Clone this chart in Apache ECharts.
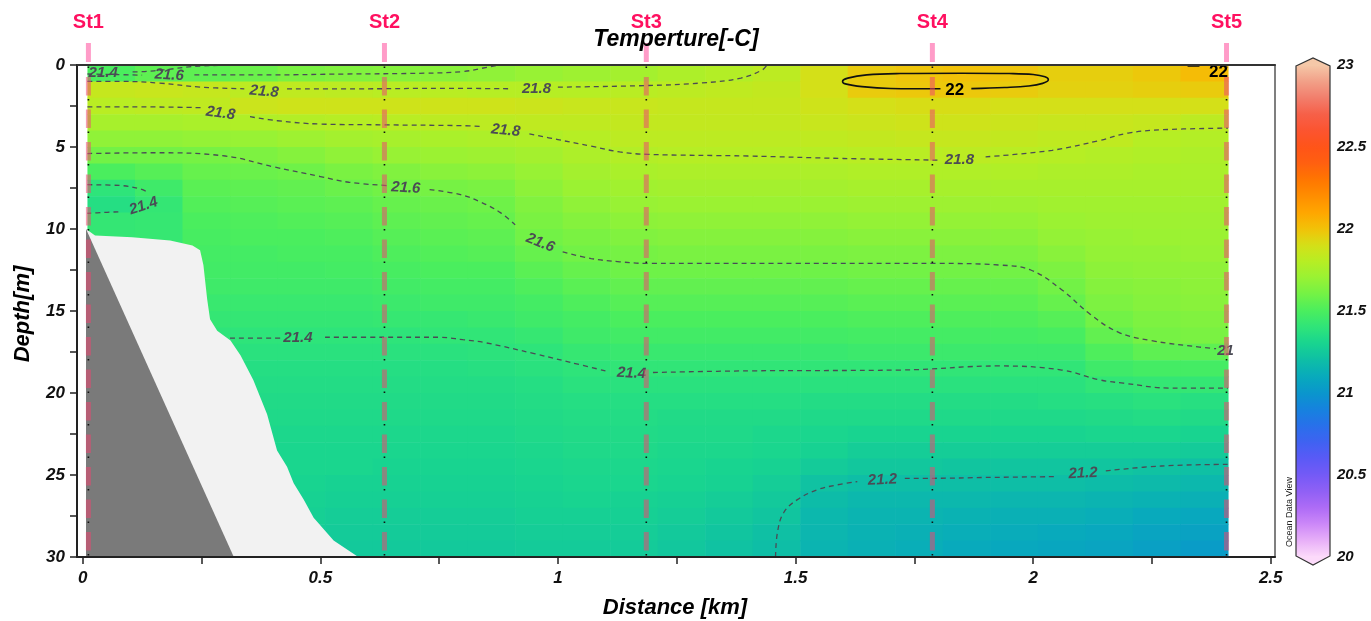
<!DOCTYPE html>
<html>
<head>
<meta charset="utf-8">
<title>Temperture section</title>
<script src="https://cdn.jsdelivr.net/npm/echarts@6.0.0/dist/echarts.min.js"></script>
<style>
  html, body { margin: 0; padding: 0; background: #fff; }
  #chart { width: 1371px; height: 621px; }
</style>
</head>
<body>
<div id="chart"></div>
<script>
// grid cell centres (km along section, m depth)
const distances = [0.06, 0.16, 0.26, 0.36, 0.46, 0.56, 0.66, 0.76, 0.86, 0.96, 1.06, 1.16,
  1.26, 1.36, 1.46, 1.56, 1.66, 1.76, 1.86, 1.96, 2.06, 2.16, 2.26, 2.36]
const depths = [0.5, 1.5, 2.5, 3.5, 4.5, 5.5, 6.5, 7.5, 8.5, 9.5, 10.5, 11.5, 12.5, 13.5, 14.5,
  15.5, 16.5, 17.5, 18.5, 19.5, 20.5, 21.5, 22.5, 23.5, 24.5, 25.5, 26.5, 27.5, 28.5, 29.5]

// temperature profiles, one per distance, top to bottom
const temps = [
  [21.5, 21.85, 21.81, 21.75, 21.68, 21.6, 21.5, 21.4, 21.36, 21.42, 21.42, 21.42, 21.42, 21.42, 21.42, 21.42, 21.42, 21.42, 21.42, 21.42, 21.42, 21.42, 21.42, 21.42, 21.42, 21.42, 21.42, 21.42, 21.42, 21.42],
  [21.55, 21.86, 21.82, 21.75, 21.68, 21.6, 21.53, 21.46, 21.42, 21.43, 21.43, 21.43, 21.43, 21.43, 21.43, 21.43, 21.43, 21.43, 21.43, 21.43, 21.43, 21.43, 21.43, 21.43, 21.43, 21.43, 21.43, 21.43, 21.43, 21.43],
  [21.55, 21.85, 21.83, 21.76, 21.69, 21.61, 21.57, 21.54, 21.52, 21.5, 21.49, 21.48, 21.47, 21.46, 21.44, 21.42, 21.4, 21.38, 21.36, 21.34, 21.32, 21.3, 21.3, 21.3, 21.3, 21.3, 21.3, 21.3, 21.3, 21.3],
  [21.58, 21.82, 21.87, 21.78, 21.7, 21.63, 21.58, 21.55, 21.53, 21.51, 21.5, 21.48, 21.47, 21.46, 21.44, 21.42, 21.4, 21.38, 21.36, 21.35, 21.34, 21.33, 21.32, 21.31, 21.3, 21.3, 21.3, 21.3, 21.3, 21.3],
  [21.62, 21.83, 21.88, 21.79, 21.72, 21.65, 21.59, 21.56, 21.54, 21.52, 21.5, 21.49, 21.47, 21.46, 21.44, 21.42, 21.4, 21.38, 21.36, 21.35, 21.34, 21.33, 21.32, 21.31, 21.31, 21.3, 21.29, 21.28, 21.27, 21.26],
  [21.64, 21.82, 21.88, 21.8, 21.74, 21.68, 21.62, 21.58, 21.55, 21.53, 21.51, 21.49, 21.48, 21.46, 21.44, 21.42, 21.4, 21.38, 21.36, 21.35, 21.34, 21.33, 21.32, 21.31, 21.31, 21.29, 21.28, 21.27, 21.26, 21.25],
  [21.65, 21.81, 21.88, 21.81, 21.75, 21.7, 21.64, 21.6, 21.57, 21.55, 21.53, 21.51, 21.49, 21.47, 21.45, 21.43, 21.4, 21.38, 21.36, 21.35, 21.34, 21.33, 21.32, 21.31, 21.3, 21.29, 21.28, 21.27, 21.26, 21.25],
  [21.66, 21.81, 21.88, 21.82, 21.76, 21.71, 21.66, 21.61, 21.58, 21.56, 21.54, 21.52, 21.5, 21.48, 21.46, 21.43, 21.41, 21.38, 21.36, 21.35, 21.34, 21.33, 21.32, 21.31, 21.3, 21.29, 21.28, 21.27, 21.26, 21.25],
  [21.68, 21.8, 21.88, 21.82, 21.77, 21.72, 21.67, 21.62, 21.59, 21.57, 21.55, 21.53, 21.5, 21.48, 21.46, 21.44, 21.41, 21.39, 21.37, 21.35, 21.34, 21.33, 21.32, 21.31, 21.3, 21.29, 21.28, 21.27, 21.26, 21.25],
  [21.7, 21.8, 21.87, 21.83, 21.78, 21.74, 21.7, 21.67, 21.64, 21.62, 21.6, 21.57, 21.54, 21.51, 21.48, 21.46, 21.43, 21.4, 21.38, 21.36, 21.35, 21.34, 21.33, 21.32, 21.31, 21.3, 21.29, 21.28, 21.27, 21.26],
  [21.72, 21.8, 21.86, 21.83, 21.8, 21.77, 21.74, 21.71, 21.68, 21.65, 21.62, 21.6, 21.57, 21.54, 21.51, 21.48, 21.46, 21.43, 21.4, 21.38, 21.36, 21.35, 21.34, 21.33, 21.32, 21.31, 21.3, 21.28, 21.27, 21.26],
  [21.74, 21.81, 21.86, 21.84, 21.82, 21.79, 21.76, 21.73, 21.7, 21.67, 21.64, 21.61, 21.59, 21.56, 21.53, 21.5, 21.47, 21.44, 21.41, 21.38, 21.36, 21.35, 21.34, 21.33, 21.32, 21.31, 21.29, 21.28, 21.27, 21.26],
  [21.77, 21.82, 21.85, 21.84, 21.82, 21.8, 21.77, 21.74, 21.71, 21.68, 21.65, 21.62, 21.59, 21.56, 21.53, 21.5, 21.47, 21.44, 21.41, 21.38, 21.36, 21.34, 21.33, 21.32, 21.31, 21.3, 21.28, 21.27, 21.25, 21.24],
  [21.79, 21.83, 21.85, 21.84, 21.82, 21.8, 21.77, 21.74, 21.71, 21.68, 21.65, 21.62, 21.59, 21.56, 21.53, 21.5, 21.47, 21.44, 21.41, 21.38, 21.36, 21.34, 21.33, 21.32, 21.3, 21.29, 21.27, 21.25, 21.23, 21.22],
  [21.82, 21.84, 21.85, 21.84, 21.82, 21.8, 21.77, 21.74, 21.71, 21.68, 21.65, 21.62, 21.59, 21.56, 21.53, 21.5, 21.47, 21.44, 21.41, 21.38, 21.36, 21.34, 21.32, 21.31, 21.29, 21.27, 21.25, 21.23, 21.21, 21.2],
  [21.9, 21.9, 21.88, 21.86, 21.83, 21.8, 21.77, 21.74, 21.71, 21.68, 21.65, 21.62, 21.59, 21.56, 21.53, 21.5, 21.47, 21.44, 21.41, 21.38, 21.35, 21.33, 21.31, 21.29, 21.26, 21.22, 21.19, 21.17, 21.16, 21.15],
  [21.97, 21.97, 21.9, 21.87, 21.84, 21.81, 21.78, 21.75, 21.72, 21.69, 21.66, 21.63, 21.6, 21.57, 21.54, 21.51, 21.48, 21.45, 21.41, 21.38, 21.35, 21.33, 21.3, 21.27, 21.24, 21.2, 21.17, 21.15, 21.14, 21.13],
  [21.99, 21.98, 21.91, 21.88, 21.85, 21.81, 21.78, 21.75, 21.72, 21.69, 21.66, 21.63, 21.6, 21.57, 21.54, 21.51, 21.48, 21.45, 21.41, 21.38, 21.35, 21.33, 21.3, 21.27, 21.24, 21.2, 21.17, 21.15, 21.13, 21.12],
  [22.0, 21.98, 21.91, 21.88, 21.85, 21.82, 21.78, 21.75, 21.72, 21.69, 21.66, 21.63, 21.6, 21.57, 21.54, 21.51, 21.48, 21.45, 21.41, 21.38, 21.35, 21.33, 21.3, 21.27, 21.23, 21.2, 21.17, 21.14, 21.12, 21.1],
  [21.99, 21.97, 21.9, 21.87, 21.84, 21.81, 21.78, 21.75, 21.72, 21.69, 21.66, 21.63, 21.6, 21.57, 21.54, 21.51, 21.48, 21.45, 21.41, 21.38, 21.35, 21.33, 21.3, 21.27, 21.23, 21.2, 21.16, 21.13, 21.11, 21.09],
  [21.96, 21.95, 21.9, 21.86, 21.83, 21.8, 21.77, 21.75, 21.73, 21.71, 21.69, 21.66, 21.63, 21.6, 21.57, 21.53, 21.49, 21.45, 21.41, 21.38, 21.36, 21.33, 21.3, 21.27, 21.23, 21.2, 21.16, 21.13, 21.1, 21.08],
  [21.96, 21.95, 21.9, 21.86, 21.83, 21.79, 21.77, 21.75, 21.73, 21.72, 21.7, 21.69, 21.67, 21.65, 21.63, 21.6, 21.56, 21.51, 21.46, 21.41, 21.37, 21.34, 21.31, 21.27, 21.23, 21.19, 21.15, 21.12, 21.09, 21.07],
  [21.98, 21.96, 21.9, 21.85, 21.8, 21.78, 21.76, 21.75, 21.73, 21.72, 21.71, 21.69, 21.68, 21.66, 21.65, 21.63, 21.61, 21.55, 21.48, 21.42, 21.38, 21.35, 21.31, 21.27, 21.22, 21.18, 21.14, 21.1, 21.07, 21.05],
  [22.02, 21.97, 21.9, 21.82, 21.79, 21.77, 21.76, 21.75, 21.73, 21.72, 21.71, 21.7, 21.68, 21.67, 21.66, 21.64, 21.62, 21.55, 21.48, 21.42, 21.37, 21.34, 21.3, 21.26, 21.21, 21.17, 21.13, 21.09, 21.06, 21.03]
]

const stations = ['St1', 'St2', 'St3', 'St4', 'St5']
const stationKm = [0.012, 0.635, 1.186, 1.788, 2.407]

const xTicks = [0, 0.25, 0.5, 0.75, 1, 1.25, 1.5, 1.75, 2, 2.25, 2.5]
const xLabels = [0, 0.5, 1, 1.5, 2, 2.5]
const yTicks = [0, 2.5, 5, 7.5, 10, 12.5, 15, 17.5, 20, 22.5, 25, 27.5, 30]
const yLabels = [0, 5, 10, 15, 20, 25, 30]

// ODV style colour ramp, 20.0 .. 23.0 every 0.1
const colorScale = ['#fcdafa', '#e8b0f8', '#cc88f8', '#ae6cf6', '#9060f5', '#745af6', '#5a5af6',
  '#3f62f2', '#2870ea', '#1682de', '#0a96cc', '#08aabc', '#0ebea6', '#18d490', '#2ee47a',
  '#4aee5e', '#72f246', '#98f234', '#b6ee24', '#d4e018', '#f2c208', '#ffa600', '#ff8e00',
  '#ff7600', '#ff6010', '#ff5418', '#fc5430', '#f66048', '#f27e6c', '#f2a088', '#f5c8a8']

// bathymetry / no-data masks (km, m)
const shelfOutline = [[0.007, 10], [0.026, 10.4], [0.104, 10.5], [0.184, 10.7], [0.231, 11],
  [0.247, 11.3], [0.254, 12.2], [0.262, 14.3], [0.268, 15.5], [0.283, 16.2], [0.311, 16.8],
  [0.332, 17.7], [0.359, 19.2], [0.388, 21.3], [0.409, 23.5], [0.43, 24.5], [0.444, 25.5],
  [0.465, 26.5], [0.486, 27.6], [0.528, 29], [0.58, 30], [0.007, 30]]
const bottomOutline = [[0.007, 10], [0.318, 30], [0.007, 30]]

// isolines, split where the labels sit
const iso214Top = [[[0.105, 0.42], [0.13, 0.4], [0.17, 0.3], [0.23, 0.1], [0.29, 0.02]]]
const iso216Top = [
  [[0.01, 0.55], [0.06, 0.58], [0.125, 0.62]],
  [[0.235, 0.6], [0.4, 0.6], [0.55, 0.55], [0.72, 0.5], [0.8, 0.4], [0.84, 0.2], [0.875, 0]]
]
const iso218Top = [
  [[0.01, 1.0], [0.08, 1.0], [0.16, 1.1], [0.25, 1.35], [0.34, 1.45]],
  [[0.43, 1.45], [0.6, 1.45], [0.75, 1.42], [0.9, 1.45]],
  [[1.0, 1.35], [1.19, 1.25], [1.3, 1.1], [1.385, 0.8], [1.43, 0.3], [1.44, 0]]
]
const iso218Low = [
  [[0.01, 2.55], [0.1, 2.55], [0.25, 2.6]],
  [[0.352, 3.15], [0.41, 3.4], [0.5, 3.6], [0.635, 3.65], [0.8, 3.7], [0.84, 3.75]],
  [[0.94, 4.2], [1.0, 4.55], [1.07, 4.95], [1.13, 5.3], [1.19, 5.45], [1.4, 5.55], [1.6, 5.7], [1.8, 5.8]],
  [[1.9, 5.6], [2.04, 5.2], [2.14, 4.6], [2.2, 4.15], [2.27, 3.95], [2.41, 3.85]]
]
const iso216Low = [
  [[0.01, 5.4], [0.15, 5.35], [0.3, 5.55], [0.4, 6.2], [0.5, 6.8], [0.56, 7.15], [0.64, 7.35]],
  [[0.73, 7.6], [0.795, 7.9], [0.837, 8.35], [0.879, 9.0], [0.91, 9.75]],
  [[1.01, 11.4], [1.07, 11.8], [1.13, 12.0], [1.19, 12.1], [1.5, 12.1], [1.8, 12.1], [1.93, 12.2],
    [1.995, 12.5], [2.06, 13.7], [2.12, 15.2], [2.18, 16.3], [2.247, 16.8], [2.35, 17.2], [2.385, 17.3]]
]
const iso214Loop = [
  [[0.01, 7.3], [0.08, 7.35], [0.12, 7.55], [0.14, 7.8]],
  [[0.075, 8.95], [0.04, 9.0], [0.01, 9.05]]
]
const iso214Low = [
  [[0.31, 16.65], [0.416, 16.65]],
  [[0.51, 16.6], [0.635, 16.6], [0.75, 16.6], [0.8, 16.75], [0.85, 16.95], [0.95, 17.6], [1.05, 18.3], [1.1, 18.65]],
  [[1.2, 18.75], [1.4, 18.65], [1.72, 18.6], [1.93, 18.35], [2.06, 18.6], [2.14, 19.2], [2.19, 19.4], [2.29, 19.7], [2.41, 19.7]]
]
const iso212 = [
  [[1.458, 30], [1.462, 28.5], [1.475, 27.3], [1.504, 26.5], [1.546, 25.9], [1.588, 25.6], [1.63, 25.4]],
  [[1.73, 25.2], [1.79, 25.2], [1.9, 25.15], [2.047, 25.1]],
  [[2.153, 24.75], [2.27, 24.45], [2.41, 24.35]]
]
const iso220 = [
  [[1.805, 1.45], [1.7, 1.43], [1.64, 1.32], [1.605, 1.15], [1.599, 1.0], [1.61, 0.8], [1.65, 0.6],
    [1.72, 0.52], [1.85, 0.5], [1.95, 0.52], [2.0, 0.58], [2.025, 0.72], [2.032, 0.9], [2.02, 1.12],
    [1.99, 1.28], [1.94, 1.37], [1.87, 1.44]],
  [[2.325, 0.06], [2.35, 0.06]]
]

const contourLabels = [
  [0.043, 0.5, '21.4'], [0.182, 0.62, '21.6'], [0.382, 1.62, '21.8'], [0.955, 1.45, '21.8'],
  [0.29, 2.95, '21.8'], [0.89, 4.0, '21.8'], [1.845, 5.8, '21.8'], [0.68, 7.5, '21.6'],
  [0.128, 8.6, '21.4'], [0.963, 10.85, '21.6'], [0.453, 16.65, '21.4'], [1.155, 18.8, '21.4'],
  [1.683, 25.3, '21.2'], [2.105, 24.9, '21.2'], [2.405, 17.4, '21']
]
const labelAngles = [0, -3, -5, 0, -8, -6, 0, -3, 18, -22, 0, -3, 3, 3, 0]
const majorLabels = [[1.835, 1.55, '22'], [2.39, 0.45, '22']]

const cellWidth = 0.1
const cellHeight = 1
const font = '"Liberation Sans", Arial, sans-serif'

const cells = []
distances.forEach((x, i) => {
  depths.forEach((d, j) => cells.push([x, d, temps[i][j]]))
})

const chart = echarts.init(document.getElementById('chart'))

const maskSeries = (points, color) => ({
  type: 'custom',
  silent: true,
  z: 3,
  data: [[0, 0]],
  renderItem: (params, api) => ({
    type: 'polygon',
    shape: { points: points.map(p => api.coord(p)) },
    style: { fill: color }
  })
})

const isoSeries = (segments, color, width, dash) => segments.map(seg => ({
  type: 'line',
  data: seg,
  symbol: 'none',
  smooth: 0.4,
  silent: true,
  z: 4,
  lineStyle: { color: color, width: width, type: dash }
}))

const tickLabel = {
  fontStyle: 'italic',
  fontWeight: 'bold',
  fontSize: 17,
  fontFamily: font,
  color: '#111'
}

const option = {
  animation: false,
  grid: [
    { left: 77, top: 65, width: 1198, height: 492 },
    { left: 1296, top: 65, width: 34, height: 492 }
  ],
  xAxis: [
    {
      type: 'value', gridIndex: 0, min: -0.012, max: 2.509, z: 10,
      axisLine: { onZero: false, lineStyle: { color: '#222', width: 2 } },
      axisTick: { customValues: xTicks, length: 7, lineStyle: { color: '#222', width: 1.5 } },
      axisLabel: Object.assign({ customValues: xLabels, margin: 13 }, tickLabel),
      splitLine: { show: false }
    },
    {
      type: 'value', gridIndex: 0, position: 'top', min: -0.012, max: 2.509, z: 10,
      axisLine: { onZero: false, lineStyle: { color: '#333', width: 2 } },
      axisTick: { show: false }, axisLabel: { show: false }, splitLine: { show: false }
    },
    { type: 'value', gridIndex: 1, show: false, min: 0, max: 1 }
  ],
  yAxis: [
    {
      type: 'value', gridIndex: 0, min: 0, max: 30, inverse: true, z: 10,
      axisLine: { onZero: false, lineStyle: { color: '#222', width: 2 } },
      axisTick: { customValues: yTicks, length: 7, lineStyle: { color: '#222', width: 1.5 } },
      axisLabel: Object.assign({ customValues: yLabels, margin: 12 }, tickLabel),
      splitLine: { show: false }
    },
    {
      type: 'value', gridIndex: 0, position: 'right', min: 0, max: 30, inverse: true, z: 10,
      axisLine: { onZero: false, lineStyle: { color: '#555', width: 1.5 } },
      axisTick: { show: false }, axisLabel: { show: false }, splitLine: { show: false }
    },
    {
      type: 'value', gridIndex: 1, position: 'right', min: 20, max: 23, interval: 0.5,
      axisLine: { show: false }, axisTick: { show: false }, splitLine: { show: false },
      axisLabel: Object.assign({}, tickLabel, { fontSize: 15, margin: 7 })
    }
  ],
  visualMap: {
    type: 'continuous',
    seriesIndex: 0,
    dimension: 2,
    min: 20,
    max: 23,
    calculable: false,
    left: 1296,
    top: 65,
    padding: 0,
    itemWidth: 34,
    itemHeight: 492,
    inRange: { color: colorScale }
  },
  series: [
    {
      type: 'custom',
      silent: true,
      z: 2,
      data: cells,
      encode: { x: 0, y: 1 },
      renderItem: (params, api) => {
        const x = api.value(0)
        const d = api.value(1)
        const a = api.coord([x - cellWidth / 2, d - cellHeight / 2])
        const b = api.coord([x + cellWidth / 2, d + cellHeight / 2])
        return {
          type: 'rect',
          shape: { x: a[0], y: a[1], width: b[0] - a[0] + 0.6, height: b[1] - a[1] + 0.6 },
          style: { fill: api.visual('color') }
        }
      }
    },
    maskSeries(shelfOutline, '#f2f2f2'),
    maskSeries(bottomOutline, '#7a7a7a'),
    ...isoSeries(iso214Top, '#4b4b55', 1.3, [5, 4]),
    ...isoSeries(iso216Top, '#4b4b55', 1.3, [5, 4]),
    ...isoSeries(iso218Top, '#4b4b55', 1.3, [5, 4]),
    ...isoSeries(iso218Low, '#4b4b55', 1.3, [5, 4]),
    ...isoSeries(iso216Low, '#4b4b55', 1.3, [5, 4]),
    ...isoSeries(iso214Loop, '#4b4b55', 1.3, [5, 4]),
    ...isoSeries(iso214Low, '#4b4b55', 1.3, [5, 4]),
    ...isoSeries(iso212, '#4b4b55', 1.3, [5, 4]),
    ...isoSeries(iso220, '#111', 1.6, 'solid'),
    {
      type: 'custom',
      silent: true,
      z: 5,
      data: contourLabels.map(l => [l[0], l[1]]),
      renderItem: (params, api) => {
        const p = api.coord([api.value(0), api.value(1)])
        return {
          type: 'text',
          x: p[0],
          y: p[1],
          rotation: labelAngles[params.dataIndex] * Math.PI / 180,
          style: {
            text: contourLabels[params.dataIndex][2],
            font: 'italic bold 15px ' + font,
            fill: '#4b4b55',
            align: 'center',
            verticalAlign: 'middle'
          }
        }
      }
    },
    {
      type: 'custom',
      silent: true,
      z: 5,
      data: majorLabels.map(l => [l[0], l[1]]),
      renderItem: (params, api) => {
        const p = api.coord([api.value(0), api.value(1)])
        return {
          type: 'text',
          x: p[0],
          y: p[1],
          style: {
            text: majorLabels[params.dataIndex][2],
            font: 'bold 17px ' + font,
            fill: '#000',
            align: 'center',
            verticalAlign: 'middle'
          }
        }
      }
    },
    {
      type: 'custom',
      silent: true,
      clip: false,
      z: 6,
      data: stationKm.map(x => [x, 0]),
      renderItem: (params, api) => {
        const x = api.value(0)
        const top = api.coord([x, 0])
        const bot = api.coord([x, 30])
        return {
          type: 'group',
          children: [
            { type: 'rect', shape: { x: top[0] - 2.5, y: top[1] - 22, width: 5, height: 19 }, style: { fill: '#ff9cc8' } },
            {
              type: 'line',
              shape: { x1: top[0], y1: top[1], x2: bot[0], y2: bot[1] },
              style: { stroke: 'rgba(238,69,114,0.53)', lineWidth: 5, lineDash: [18.5, 14], lineDashOffset: 20.5 }
            },
            {
              type: 'line',
              shape: { x1: top[0], y1: top[1], x2: bot[0], y2: bot[1] },
              style: { stroke: '#111', lineWidth: 1.6, lineDash: [1.5, 31], lineDashOffset: 31 }
            },
            {
              type: 'text',
              x: top[0],
              y: top[1] - 43,
              style: {
                text: stations[params.dataIndex],
                font: 'bold 20px ' + font,
                fill: '#ff1060',
                align: 'center',
                verticalAlign: 'middle'
              }
            }
          ]
        }
      }
    }
  ],
  graphic: [
    {
      type: 'text', x: 676, y: 40, z: 100,
      style: { text: 'Temperture[-C]', font: 'italic bold 23px ' + font, fill: '#000', align: 'center', verticalAlign: 'middle' }
    },
    {
      type: 'text', x: 675, y: 608, z: 100,
      style: { text: 'Distance [km]', font: 'italic bold 22px ' + font, fill: '#000', align: 'center', verticalAlign: 'middle' }
    },
    {
      type: 'text', x: 23, y: 314, z: 100, rotation: Math.PI / 2,
      style: { text: 'Depth[m]', font: 'italic bold 22px ' + font, fill: '#000', align: 'center', verticalAlign: 'middle' }
    },
    {
      type: 'text', x: 1290, y: 512, z: 100, rotation: Math.PI / 2,
      style: { text: 'Ocean Data View', font: '9px ' + font, fill: '#222', align: 'center', verticalAlign: 'middle' }
    },
    { type: 'polygon', z: 100, shape: { points: [[1296, 66], [1313, 58], [1330, 66]] }, style: { fill: '#f5c8a8' } },
    { type: 'polygon', z: 100, shape: { points: [[1296, 556], [1313, 565], [1330, 556]] }, style: { fill: '#fcdafa' } },
    {
      type: 'polygon', z: 101,
      shape: { points: [[1296, 66], [1313, 58], [1330, 66], [1330, 556], [1313, 565], [1296, 556]] },
      style: { fill: 'none', stroke: '#333', lineWidth: 1.2 }
    }
  ]
}

chart.setOption(option)
</script>
</body>
</html>
